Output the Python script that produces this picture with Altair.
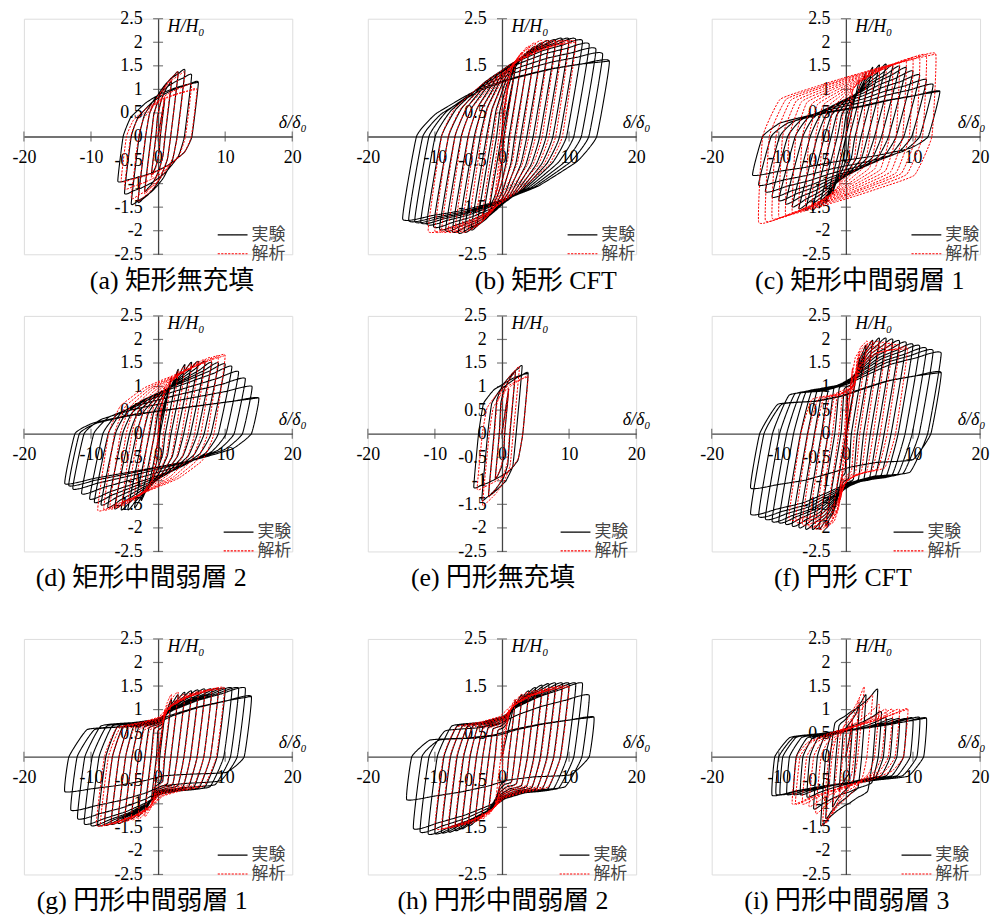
import altair as alt
import pandas as pd

# ---------------- data ----------------
# each cycle: (positive peak delta, positive peak H, negative peak delta, negative peak H)
A_EXP = [(1, 0.8, -1, -0.8), (2, 1.15, -2, -1.15), (3, 1.35, -3, -1.38), (4, 1.4, -4, -1.42),
         (5, 1.3, -5, -1.2), (6, 1.15, -6, -0.95)]
A_ANA = [(1, 0.85, -1, -0.85), (2, 1.2, -2, -1.2), (3, 1.35, -3, -1.35), (4, 1.35, -4, -1.3),
         (5, 1.1, -5, -1.1), (5.8, 1.0, -5.5, -0.95)]

B_EXP = [(2, 1.45, -1.8, -1.45), (3, 1.65, -2.8, -1.7), (4, 1.78, -3.7, -1.85), (5, 1.88, -4.6, -1.95),
         (6, 1.95, -5.6, -2.0), (7, 2.0, -6.5, -2.02), (8, 2.02, -7.4, -2.0), (9, 2.05, -8.4, -1.98),
         (10, 2.05, -9.3, -1.95), (11, 2.05, -10.2, -1.9), (12, 2.02, -11.2, -1.85), (13, 1.95, -12.1, -1.82),
         (14, 1.85, -13.0, -1.8), (15, 1.75, -13.9, -1.78), (16, 1.6, -14.8, -1.75)]
B_ANA = [(1, 1.2, -1, -1.2), (2, 1.55, -2, -1.55), (3, 1.75, -3, -1.75), (4, 1.88, -4, -1.88),
         (5, 1.95, -5, -1.95), (6, 2.0, -6, -2.0), (7, 2.0, -7, -2.0), (8, 2.0, -8, -2.0),
         (9, 2.0, -9, -2.0), (10, 2.0, -10, -2.0), (11, 2.0, -11, -2.0)]

C_EXP = [(2, 1.2, -2, -1.2), (3, 1.35, -3, -1.4), (4, 1.45, -4, -1.5), (5, 1.5, -5, -1.55),
         (6, 1.52, -6, -1.55), (7, 1.5, -7, -1.52), (8, 1.48, -8, -1.48), (9, 1.45, -9, -1.42),
         (10, 1.38, -10, -1.35), (11, 1.3, -11, -1.28), (12, 1.2, -12, -1.17), (13, 1.1, -13, -1.03),
         (14, 0.96, -13.9, -0.82)]
C_ANA = [(1, 1.0, -1, -1.0), (2, 1.2, -2, -1.2), (3, 1.3, -3, -1.3), (4, 1.35, -4, -1.38),
         (5, 1.4, -5, -1.45), (6, 1.45, -6, -1.5), (7, 1.5, -7, -1.55), (8, 1.55, -8, -1.6),
         (9, 1.6, -9, -1.65), (10, 1.64, -10, -1.7), (11, 1.68, -11, -1.73), (12, 1.72, -12, -1.78),
         (13.4, 1.75, -13, -1.82)]

D_EXP = [(2, 1.2, -1.5, -1.2), (3, 1.35, -2.5, -1.4), (4, 1.45, -3.5, -1.55), (5, 1.5, -4.5, -1.6),
         (6, 1.52, -5.5, -1.6), (7, 1.52, -6.5, -1.58), (8, 1.5, -7.5, -1.55), (9, 1.49, -8.5, -1.5),
         (10, 1.47, -9.5, -1.45), (11, 1.42, -10.2, -1.38), (12, 1.31, -11.4, -1.27), (13, 1.17, -12.7, -1.17),
         (14, 1.0, -13.3, -1.1), (15, 0.76, -13.9, -1.06)]
D_ANA = [(1, 1.0, -0.9, -1.0), (2, 1.2, -1.8, -1.2), (3, 1.3, -2.7, -1.3), (4, 1.4, -3.6, -1.4),
         (5, 1.45, -4.5, -1.45), (6, 1.5, -5.4, -1.5), (7, 1.55, -6.3, -1.55), (8, 1.6, -7.2, -1.58),
         (9, 1.63, -8.1, -1.6), (10, 1.66, -9.0, -1.62)]

E_EXP = [(1, 0.95, -1, -0.95), (2, 1.3, -2, -1.3), (3, 1.42, -3, -1.39), (3.9, 1.28, -4.2, -1.13)]
E_ANA = [(1, 0.95, -1, -0.95), (2, 1.3, -2, -1.32), (2.6, 1.4, -2.9, -1.5), (3.9, 1.2, -3.7, -1.17)]

F_EXP = [(2, 1.6, -2, -1.7), (3, 1.85, -3, -1.92), (4, 1.95, -4, -1.99), (5, 2.0, -5, -2.0),
         (6, 2.0, -6, -2.0), (7, 1.98, -7, -1.97), (8, 1.95, -8, -1.94), (9, 1.92, -9, -1.9),
         (10, 1.88, -10, -1.87), (11, 1.85, -11, -1.85), (12, 1.8, -12, -1.8), (13, 1.76, -13, -1.75),
         (14.2, 1.71, -14.2, -1.7), (14.2, 1.3, -14.2, -1.15)]
F_ANA = [(1, 1.4, -1, -1.4), (2, 1.7, -2, -1.75), (3.2, 1.92, -3, -1.95), (4, 1.92, -4, -1.99),
         (5, 1.92, -4.6, -1.98), (6, 1.9, -5.5, -1.95), (7, 1.88, -6.5, -1.9), (8, 1.85, -7.5, -1.85),
         (9.2, 1.8, -8.5, -1.8)]

G_EXP = [(1, 0.9, -1, -0.9), (2, 1.2, -2, -1.15), (3, 1.3, -3, -1.25), (4, 1.35, -4, -1.3),
         (5, 1.38, -5, -1.35), (6, 1.4, -6, -1.4), (7, 1.42, -7, -1.42), (8, 1.42, -8, -1.44),
         (9, 1.43, -9, -1.45), (10, 1.44, -10, -1.45), (11, 1.45, -11, -1.42), (12, 1.45, -12, -1.31),
         (13, 1.45, -13, -1.13), (13.9, 1.28, -13.9, -0.74)]
G_ANA = [(1, 1.0, -1, -1.0), (2, 1.3, -2, -1.25), (3, 1.35, -3, -1.3), (4, 1.3, -4, -1.32),
         (5, 1.32, -5, -1.35), (6, 1.35, -6, -1.38), (7, 1.38, -7, -1.4), (8, 1.4, -8, -1.42),
         (9, 1.43, -8.6, -1.44), (9.9, 1.45, -9.2, -1.45)]

H_EXP = [(2, 1.2, -2, -1.15), (3, 1.3, -3, -1.25), (4, 1.38, -4, -1.35), (5, 1.45, -5, -1.45),
         (6, 1.5, -6, -1.5), (7, 1.53, -7, -1.55), (8, 1.55, -8, -1.58), (9, 1.55, -9, -1.6),
         (10, 1.55, -10, -1.62), (11, 1.55, -11, -1.63), (12, 1.55, -12.2, -1.59), (13, 1.3, -13.2, -1.52),
         (13.7, 0.84, -14.2, -0.91)]
H_ANA = [(1, 1.0, -1, -1.0), (2, 1.2, -2, -1.2), (3, 1.3, -3, -1.3), (4, 1.35, -4, -1.35),
         (5, 1.38, -5, -1.4), (6, 1.4, -6, -1.42), (7, 1.42, -7, -1.45), (8, 1.45, -8, -1.48),
         (9, 1.47, -9, -1.5), (10, 1.48, -10, -1.52)]

I_EXP = [(1, 0.7, -1, -0.7), (2, 1.05, -2, -1.05), (3, 1.3, -3, -1.3), (4.75, 1.42, -3.75, -1.45),
         (5.3, 0.95, -4.8, -1.1), (6, 0.82, -5.8, -0.85), (7, 0.8, -6.8, -0.8), (8, 0.8, -7.8, -0.8),
         (9, 0.8, -8.8, -0.8), (10, 0.82, -9.8, -0.8), (11, 0.83, -10.4, -0.8), (12, 0.82, -11, -0.82)]
I_ANA = [(1, 0.8, -1, -0.8), (2, 1.2, -2, -1.2), (2.75, 1.47, -3, -1.4), (4, 1.3, -3.5, -1.45),
         (5, 1.1, -4.5, -1.2), (6, 1.0, -5.5, -1.05), (7, 1.0, -6.5, -1.0), (8, 1.0, -7.5, -1.0),
         (9.25, 1.01, -8, -1.0)]

X_TICKS = [-20, -10, 0, 10, 20]
Y_TICKS_HALF = [-2.5, -2, -1.5, -1, -0.5, 0, 0.5, 1, 1.5, 2, 2.5]
Y_TICKS_ONE = [-2.5, -1.5, -0.5, 0.5, 1.5, 2.5]

SERIES = ["実験", "解析"]

PANELS = [
    ("a", "(a) 矩形無充填", A_EXP, A_ANA, Y_TICKS_HALF),
    ("b", "(b) 矩形 CFT", B_EXP, B_ANA, Y_TICKS_ONE),
    ("c", "(c) 矩形中間弱層 1", C_EXP, C_ANA, Y_TICKS_HALF),
    ("d", "(d) 矩形中間弱層 2", D_EXP, D_ANA, Y_TICKS_HALF),
    ("e", "(e) 円形無充填", E_EXP, E_ANA, Y_TICKS_HALF),
    ("f", "(f) 円形 CFT", F_EXP, F_ANA, Y_TICKS_HALF),
    ("g", "(g) 円形中間弱層 1", G_EXP, G_ANA, Y_TICKS_HALF),
    ("h", "(h) 円形中間弱層 2", H_EXP, H_ANA, Y_TICKS_ONE),
    ("i", "(i) 円形中間弱層 3", I_EXP, I_ANA, Y_TICKS_HALF),
]

# loop shape: unloading stiffness and branch levels (fraction of the peak) along each branch
T_BRANCH = [0.1, 0.3, 0.45, 0.55, 0.7, 0.85]
SHAPE = {
    "a": ((1.2, [0.35, 0.62, 0.75, 0.82, 0.9, 0.96]), (1.2, [0.35, 0.62, 0.75, 0.82, 0.9, 0.96])),
    "b": ((0.85, [0.3, 0.6, 0.74, 0.81, 0.9, 0.96]), (1.0, [0.3, 0.55, 0.7, 0.8, 0.9, 0.97])),
    "c": ((0.55, [0.3, 0.5, 0.6, 0.67, 0.8, 0.9]), (3.0, [0.45, 0.6, 0.7, 0.76, 0.85, 0.93])),
    "d": ((0.7, [0.3, 0.52, 0.63, 0.7, 0.8, 0.9]), (1.0, [0.35, 0.58, 0.68, 0.74, 0.84, 0.93])),
    "e": ((1.6, [0.5, 0.72, 0.8, 0.85, 0.92, 0.97]), (1.5, [0.45, 0.68, 0.78, 0.84, 0.91, 0.97])),
    "f": ((0.85, [0.48, 0.53, 0.62, 0.72, 0.86, 0.94]), (1.0, [0.4, 0.46, 0.55, 0.8, 0.95, 0.99])),
    "g": ((1.2, [0.45, 0.5, 0.55, 0.68, 0.82, 0.92]), (1.2, [0.42, 0.5, 0.58, 0.75, 0.88, 0.96])),
    "h": ((1.2, [0.42, 0.47, 0.55, 0.68, 0.82, 0.92]), (1.2, [0.42, 0.5, 0.58, 0.75, 0.88, 0.96])),
    "i": ((2.0, [0.5, 0.6, 0.68, 0.72, 0.8, 0.9]), (1.5, [0.3, 0.5, 0.6, 0.66, 0.76, 0.88])),
}

# layout (pixels)
W, H = 270, 237
CAPTION_DX = {"a": 14, "b": 44, "c": 14, "d": -17, "e": -9, "f": -3, "g": -16, "h": 1, "i": 1}
LEGEND_DX = {"a": 59, "b": 65, "c": 65, "d": 65, "e": 58, "f": 47, "g": 59, "h": 57, "i": 55}
XTITLE_X = {"a": W + 14, "b": W + 14, "c": W + 5, "d": W + 14, "e": W + 14, "f": W + 5,
            "g": W + 14, "h": W + 14, "i": W + 5}

SERIF = "Liberation Serif"
CJK = "Liberation Serif, Noto Sans CJK JP"


def loop_table(cycles, ku, b, series):
    pts = [(0.0, 0.0)]
    x1 = 0.0
    for i, (dp, hp, dn, hn) in enumerate(cycles):
        if i > 0:
            for t, bb in zip(T_BRANCH, b):
                pts.append((x1 + t * (dp - x1), hp * bb))
        pts.append((dp, hp))
        x0 = max(dp - hp / ku, (dp + dn) / 2)
        pts.append((x0, 0.0))
        for t, bb in zip(T_BRANCH, b):
            pts.append((x0 + t * (dn - x0), hn * bb))
        pts.append((dn, hn))
        x1 = min(dn - hn / ku, (dp + dn) / 2)
        pts.append((x1, 0.0))
    # final reloading branch back towards the last positive peak
    dp, hp = cycles[-1][0], cycles[-1][1]
    for t, bb in zip(T_BRANCH, b):
        pts.append((x1 + t * (dp - x1), hp * bb))
    pts.append((dp, hp))
    return pd.DataFrame({"x": [p[0] for p in pts], "y": [p[1] for p in pts],
                         "k": list(range(len(pts))), "s": series})


def legend(key):
    return alt.Legend(orient="none", legendX=W / 2 + LEGEND_DX[key], legendY=H - 28,
                      title=None, symbolType="stroke", symbolSize=900, clipHeight=17,
                      symbolStrokeWidth=1.2, labelFont=CJK, labelFontSize=17,
                      labelColor="#444", labelOffset=3, padding=0, rowPadding=1)


def make_panel(key, caption, exp, ana, yticks):
    (ku_e, b_e), (ku_a, b_a) = SHAPE[key]
    df_e = loop_table(exp, ku_e, b_e, SERIES[0])
    df_a = loop_table(ana, ku_a, b_a, SERIES[1])

    xscale = alt.Scale(domain=[-20, 20], nice=False, zero=False)
    yscale = alt.Scale(domain=[-2.5, 2.5], nice=False, zero=False)
    xaxis = alt.Axis(values=X_TICKS, offset=-H / 2, ticks=False, grid=False,
                     domainColor="#444", domainWidth=1.3, labelFont=SERIF, labelFontSize=18,
                     labelColor="black", labelPadding=12, labelFlush=False, labelOverlap=False,
                     labelExpr="'' + datum.value",
                     title="δ/δ₀", titleFont=SERIF, titleFontSize=18, titleFontStyle="italic",
                     titleFontWeight="normal", titleColor="black", titleAlign="right",
                     titleBaseline="middle", titleX=XTITLE_X[key], titleY=-14, titleAngle=0)
    yaxis = alt.Axis(values=yticks, offset=-W / 2, ticks=False, grid=False,
                     domainColor="#444", domainWidth=1.3, labelFont=SERIF, labelFontSize=18,
                     labelColor="black", labelPadding=16, labelFlush=False, labelOverlap=False,
                     labelExpr="'' + datum.value",
                     title="H/H₀", titleFont=SERIF, titleFontSize=18, titleFontStyle="italic",
                     titleFontWeight="normal", titleColor="black", titleAlign="left",
                     titleBaseline="middle", titleX=9, titleY=8, titleAngle=0)

    color = alt.Color("s:N", scale=alt.Scale(domain=SERIES, range=["black", "red"]), legend=legend(key))
    dash = alt.StrokeDash("s:N", scale=alt.Scale(domain=SERIES, range=[[1, 0], [2.2, 1.3]]),
                          legend=legend(key))

    def lines(df, width):
        return alt.Chart(df).mark_line(strokeWidth=width, interpolate="cardinal", tension=0.65).encode(
            x=alt.X("x:Q", scale=xscale, axis=xaxis),
            y=alt.Y("y:Q", scale=yscale, axis=yaxis),
            order="k:Q", color=color, strokeDash=dash)

    xt = alt.Chart(pd.DataFrame({"x": X_TICKS})).mark_tick(
        orient="vertical", size=10, thickness=1.2, color="#444").encode(
        x=alt.X("x:Q", scale=xscale, axis=xaxis), y=alt.value(H / 2))
    yt = alt.Chart(pd.DataFrame({"y": yticks})).mark_tick(
        orient="horizontal", size=10, thickness=1.2, color="#444").encode(
        y=alt.Y("y:Q", scale=yscale, axis=yaxis), x=alt.value(W / 2))

    return alt.layer(xt, yt, lines(df_e, 1.1), lines(df_a, 1.0)).properties(
        width=W, height=H,
        title=alt.TitleParams(caption, orient="bottom", anchor="middle", font=CJK, fontSize=26,
                              fontWeight="normal", color="black", offset=5, dx=CAPTION_DX[key]))


panels = [make_panel(*p) for p in PANELS]


def row(ps):
    return alt.hconcat(*ps, spacing=48).resolve_legend(color="independent", strokeDash="independent")


top = alt.vconcat(row(panels[0:3]), row(panels[3:6]), spacing=11).resolve_legend(
    color="independent", strokeDash="independent")
chart = alt.vconcat(top, row(panels[6:9]), spacing=37).resolve_legend(
    color="independent", strokeDash="independent").properties(
    padding={"left": 3, "top": -2, "right": 0, "bottom": 0}
).configure_view(stroke=None).configure(background="white")

chart.save("out.html", embed_options={"renderer": "svg", "actions": False})
